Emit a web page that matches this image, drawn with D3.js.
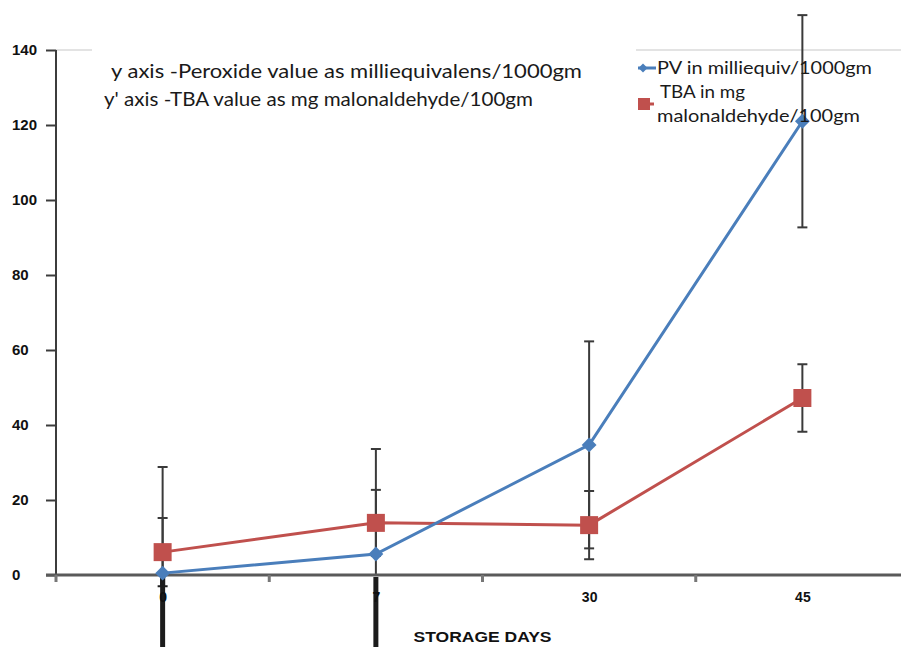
<!DOCTYPE html>
<html>
<head>
<meta charset="utf-8">
<script src="https://cdn.jsdelivr.net/npm/d3@7"></script>
<style>
  html, body { margin: 0; padding: 0; background: #fff; }
  svg { display: block; }
</style>
</head>
<body>
<svg id="chart" width="901" height="647"></svg>
<script>
// Storage days on the category axis
const days = ["0", "7", "30", "45"];
// Peroxide value (milliequiv/1000gm) and its error
const pvValues = [0.5, 5.6, 34.7, 121];
const pvErrors = [28.3, 28.0, 27.6, 28.3];
// TBA value (mg malonaldehyde/100gm) and its error
const tbaValues = [6.1, 13.9, 13.3, 47.2];
const tbaErrors = [9.1, 8.8, 9.1, 9.0];
// Value axis ticks
const yTicks = [0, 20, 40, 60, 80, 100, 120, 140];

const seriesNames = ["PV in milliequiv/1000gm", "TBA in mg", "malonaldehyde/100gm"];
const noteLines = [
  "y axis -Peroxide value as milliequivalens/1000gm",
  "y' axis -TBA value as mg malonaldehyde/100gm"
];
const xTitle = "STORAGE DAYS";

const W = 901, H = 647;
const plotLeft = 56, plotRight = 909, plotTop = 50, plotBottom = 575;

const svg = d3.select("#chart");

const xBand = d3.scaleBand().domain(days).range([plotLeft, plotRight]);
const x = d3.scalePoint().domain(days).range([plotLeft, plotRight]).padding(0.5);
const y = d3.scaleLinear().domain([0, 140]).range([plotBottom, plotTop]);

const blue = "#4a7ebb";
const red = "#c0504d";

// clip regions: inside the plot, and the overflow below the category axis
const defs = svg.append("defs");
defs.append("clipPath").attr("id", "above")
  .append("rect").attr("x", 0).attr("y", 0).attr("width", W).attr("height", plotBottom);
defs.append("clipPath").attr("id", "below")
  .append("rect").attr("x", 0).attr("y", plotBottom + 2).attr("width", W).attr("height", H - plotBottom);

// top border of the plot area
svg.append("line")
  .attr("x1", plotLeft).attr("x2", W).attr("y1", plotTop).attr("y2", plotTop)
  .attr("stroke", "#c8c8c8").attr("stroke-width", 1.2);

// note text box
const note = svg.append("g");
note.append("rect")
  .attr("x", 92).attr("y", 44).attr("width", 544).attr("height", 72)
  .attr("fill", "#fff");
note.selectAll("text").data(noteLines).join("text")
  .attr("x", (d, i) => i === 0 ? 111 : 104)
  .attr("y", (d, i) => i === 0 ? 78 : 106)
  .attr("textLength", (d, i) => i === 0 ? 471 : 429)
  .attr("lengthAdjust", "spacingAndGlyphs")
  .attr("font-family", "Lato, 'Open Sans', sans-serif")
  .attr("font-size", 19)
  .attr("fill", "#1a1a1a")
  .text(d => d);

// Y axis
const yAxis = svg.append("g")
  .attr("transform", `translate(${plotLeft},0)`)
  .call(d3.axisLeft(y).tickValues(yTicks).tickSize(10).tickFormat(d3.format("d")));
yAxis.select(".domain").remove();
yAxis.selectAll(".tick line").attr("stroke", "#3c3c3c").attr("stroke-width", 2);
yAxis.selectAll(".tick text")
  .attr("text-anchor", "start")
  .attr("x", -44)
  .attr("font-family", "'Liberation Sans', Arial, sans-serif")
  .attr("font-weight", "bold")
  .attr("font-size", 15)
  .attr("fill", "#111");
svg.append("line")
  .attr("x1", plotLeft).attr("x2", plotLeft).attr("y1", plotTop).attr("y2", plotBottom)
  .attr("stroke", "#3c3c3c").attr("stroke-width", 2);

// Error bars
function errorBars(values, errors) {
  return values.map((v, i) => ({ day: days[i], lo: v - errors[i], hi: v + errors[i] }));
}
const allBars = errorBars(pvValues, pvErrors).concat(errorBars(tbaValues, tbaErrors));

function drawBars(g, width, color) {
  const bg = g.selectAll("g").data(allBars).join("g");
  bg.append("line")
    .attr("x1", d => x(d.day)).attr("x2", d => x(d.day))
    .attr("y1", d => y(d.hi)).attr("y2", d => y(d.lo))
    .attr("stroke", color).attr("stroke-width", width);
  ["hi", "lo"].forEach(k => {
    bg.append("line")
      .attr("x1", d => x(d.day) - 5).attr("x2", d => x(d.day) + 5)
      .attr("y1", d => y(d[k])).attr("y2", d => y(d[k]))
      .attr("stroke", color).attr("stroke-width", 2);
  });
}
drawBars(svg.append("g").attr("clip-path", "url(#above)"), 2, "#3a3a3a");
drawBars(svg.append("g").attr("clip-path", "url(#below)"), 5, "#1c1c1c");

// X axis
svg.append("line")
  .attr("x1", 46).attr("x2", W).attr("y1", plotBottom).attr("y2", plotBottom)
  .attr("stroke", "#5a5a5a").attr("stroke-width", 3);
svg.append("g").selectAll("line").data(days).join("line")
  .attr("x1", d => xBand(d)).attr("x2", d => xBand(d))
  .attr("y1", plotBottom).attr("y2", plotBottom + 7)
  .attr("stroke", "#777").attr("stroke-width", 3);
const xAxis = svg.append("g")
  .attr("transform", `translate(0,${plotBottom})`)
  .call(d3.axisBottom(x).tickSize(0).tickPadding(17));
xAxis.select(".domain").remove();
xAxis.selectAll(".tick text")
  .attr("font-family", "'Liberation Sans', Arial, sans-serif")
  .attr("font-weight", "bold")
  .attr("font-size", 14)
  .attr("fill", "#111");

svg.append("text")
  .attr("x", (plotLeft + plotRight) / 2).attr("y", 642)
  .attr("text-anchor", "middle")
  .attr("textLength", 138).attr("lengthAdjust", "spacingAndGlyphs")
  .attr("font-family", "'Liberation Sans', Arial, sans-serif")
  .attr("font-weight", "bold").attr("font-size", 14)
  .attr("fill", "#111")
  .text(xTitle);

// Lines
const line = d3.line().x((d, i) => x(days[i])).y(d => y(d));
svg.append("path").datum(tbaValues)
  .attr("d", line).attr("fill", "none").attr("stroke", red).attr("stroke-width", 3);
svg.append("path").datum(pvValues)
  .attr("d", line).attr("fill", "none").attr("stroke", blue).attr("stroke-width", 3);

// Markers
svg.append("g").selectAll("rect").data(tbaValues).join("rect")
  .attr("x", (d, i) => x(days[i]) - 9).attr("y", d => y(d) - 9)
  .attr("width", 18).attr("height", 18).attr("fill", red);
svg.append("g").selectAll("path").data(pvValues).join("path")
  .attr("d", d3.symbol(d3.symbolSquare, 110))
  .attr("transform", (d, i) => `translate(${x(days[i])},${y(d)}) rotate(45)`)
  .attr("fill", blue);

// Legend
const legend = svg.append("g");
legend.append("line").attr("x1", 638).attr("x2", 656).attr("y1", 68).attr("y2", 68)
  .attr("stroke", blue).attr("stroke-width", 3);
legend.append("path").attr("d", d3.symbol(d3.symbolSquare, 40))
  .attr("transform", "translate(643,68) rotate(45)").attr("fill", blue);
legend.append("line").attr("x1", 640).attr("x2", 654).attr("y1", 104).attr("y2", 104)
  .attr("stroke", red).attr("stroke-width", 3);
legend.append("rect").attr("x", 638).attr("y", 98).attr("width", 12).attr("height", 12)
  .attr("fill", red);
legend.selectAll("text").data(seriesNames).join("text")
  .attr("x", (d, i) => i === 1 ? 660 : 657)
  .attr("y", (d, i) => [74, 98, 122][i])
  .attr("textLength", (d, i) => [215, 85, 203][i])
  .attr("lengthAdjust", "spacingAndGlyphs")
  .attr("font-family", "Lato, 'Open Sans', sans-serif")
  .attr("font-size", 17)
  .attr("fill", "#1a1a1a")
  .text(d => d);
</script>
</body>
</html>
